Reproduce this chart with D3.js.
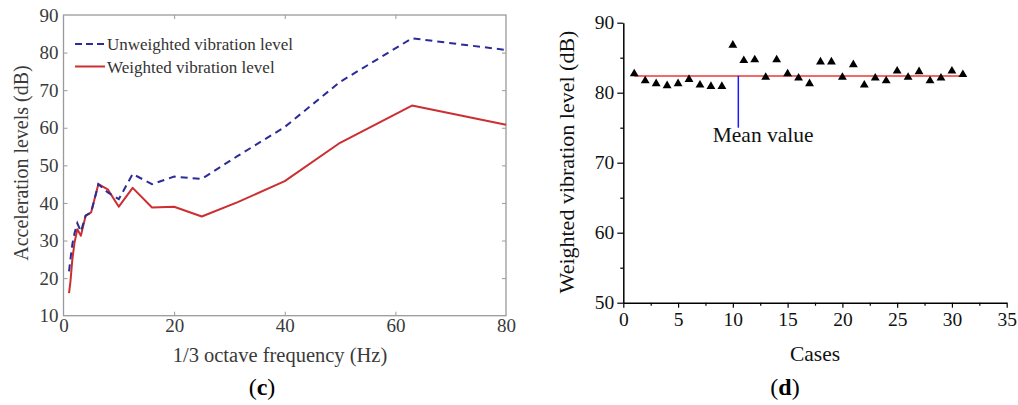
<!DOCTYPE html>
<html><head><meta charset="utf-8">
<script src="https://cdn.jsdelivr.net/npm/d3@7"></script>
<style>
body{margin:0;background:#fff;}
svg{display:block;}
svg text{font-family:"Liberation Serif","DejaVu Serif","Times New Roman",serif !important;}
</style></head>
<body>
<svg id="c" width="1018" height="405" font-family="Liberation Serif, serif"></svg>
<script>
// ---- Panel (c) data ----
const freqs = [1,1.25,1.6,2,2.5,3.15,4,5,6.3,8,10,12.5,16,20,25,31.5,40,50,63,80];
const unweighted = [21.8,25,29,32,34.6,32.4,36.6,37.5,45,42.8,41,47.7,45,47,46.4,52.5,60.2,72.2,83.8,80.7];
const weighted   = [16,19,25,29.5,33,31.3,36.6,37.5,45,43.6,39,44,38.8,39,36.4,40.2,45.8,56,65.9,60.8];
const xTicksC = [0,20,40,60,80];
const yTicksC = [10,20,30,40,50,60,70,80,90];
const legendC = ["Unweighted vibration level","Weighted vibration level"];

// ---- Panel (d) data ----
const cases = d3.range(1,32);
const caseLevels = [82.7,81.7,81.3,81.0,81.3,81.9,81.1,80.9,80.9,86.8,84.6,84.7,82.2,84.7,82.7,82.1,81.3,84.4,84.4,82.2,84.0,81.1,82.1,81.7,83.1,82.2,83.0,81.7,82.1,83.1,82.6];
const meanValue = 82.4;
const meanMarkerCase = 10.5, meanMarkerLow = 75;
const xTicksD = [0,5,10,15,20,25,30,35];
const yTicksD = [50,60,70,80,90];
const xMinorD = d3.range(2.5,35,5);
const yMinorD = [55,65,75,85];

const FONT = '"Liberation Serif", "DejaVu Serif", serif';
const svg = d3.select("#c");

// ================= Panel (c) =================
const xC = d3.scaleLinear().domain([0,80]).range([63.5,506]);
const yC = d3.scaleLinear().domain([10,90]).range([315.7,15]);
const gC = svg.append("g");
const frameCol = "#9a9a9a", labCol = "#3a3a3a";

function styleAxis(g, col, size){
  g.attr("font-family", FONT);
  g.select(".domain").remove();
  g.selectAll(".tick line").attr("stroke", frameCol).attr("stroke-width",1);
  g.selectAll("text").attr("fill", col).style("font-size", size+"px").attr("font-family", FONT);
}
gC.append("g").attr("transform","translate(0,315.7)")
  .call(d3.axisBottom(xC).tickValues(xTicksC).tickSizeInner(-4).tickSizeOuter(0).tickPadding(3).tickFormat(d3.format("d")))
  .call(g=>styleAxis(g,labCol,19))
  .call(g=>g.selectAll(".tick").filter(d=>d===0||d===80).select("line").remove());
gC.append("g").attr("transform","translate(63.5,0)")
  .call(d3.axisLeft(yC).tickValues(yTicksC).tickSizeInner(-4).tickSizeOuter(0).tickPadding(5).tickFormat(d3.format("d")))
  .call(g=>styleAxis(g,labCol,19))
  .call(g=>g.selectAll(".tick").filter(d=>d===10||d===90).select("line").remove());
gC.append("g").attr("transform","translate(0,15)")
  .call(d3.axisTop(xC).tickValues(xTicksC.filter(d=>d>0&&d<80)).tickSizeInner(-4).tickSizeOuter(0).tickFormat(""))
  .call(g=>styleAxis(g,labCol,19));
gC.append("g").attr("transform","translate(506,0)")
  .call(d3.axisRight(yC).tickValues(yTicksC.filter(d=>d>10&&d<90)).tickSizeInner(-4).tickSizeOuter(0).tickFormat(""))
  .call(g=>styleAxis(g,labCol,19));
gC.append("rect").attr("x",xC(0)).attr("y",yC(90)).attr("width",xC(80)-xC(0)).attr("height",yC(10)-yC(90))
  .attr("fill","none").attr("stroke",frameCol).attr("stroke-width",1.3);

const lineC = d3.line().x((d,i)=>xC(freqs[i])).y(d=>yC(d));
gC.append("path").datum(weighted).attr("d",lineC).attr("fill","none")
  .attr("stroke","#cc2e32").attr("stroke-width",2).attr("stroke-linejoin","round");
gC.append("path").datum(unweighted).attr("d",lineC).attr("fill","none")
  .attr("stroke","#2c2c98").attr("stroke-width",2).attr("stroke-dasharray","7,5");

// legend
const leg = gC.append("g");
leg.append("line").attr("x1",75).attr("x2",105).attr("y1",44).attr("y2",44)
  .attr("stroke","#2c2c98").attr("stroke-width",2).attr("stroke-dasharray","7,4");
leg.append("line").attr("x1",75).attr("x2",105).attr("y1",66.5).attr("y2",66.5)
  .attr("stroke","#cc2e32").attr("stroke-width",2);
leg.append("text").attr("x",107).attr("y",50).attr("fill","#333").attr("font-family",FONT).style("font-size","17px").text(legendC[0]);
leg.append("text").attr("x",107).attr("y",73).attr("fill","#333").attr("font-family",FONT).style("font-size","17px").text(legendC[1]);

gC.append("text").attr("transform","translate(28,163) rotate(-90)").attr("text-anchor","middle")
  .attr("fill","#3a3a3a").attr("font-family",FONT).style("font-size","20px").text("Acceleration levels (dB)");
gC.append("text").attr("x",280).attr("y",362).attr("text-anchor","middle")
  .attr("fill","#3a3a3a").attr("font-family",FONT).style("font-size","20.5px").text("1/3 octave frequency (Hz)");
const tc = gC.append("text").attr("x",262).attr("y",395).attr("text-anchor","middle").attr("fill","#000").attr("font-family",FONT).style("font-size","24px");
tc.append("tspan").text("(");
tc.append("tspan").attr("font-weight","bold").text("c");
tc.append("tspan").text(")");

// ================= Panel (d) =================
const xD = d3.scaleLinear().domain([0,35]).range([623.3,1006.7]);
const yD = d3.scaleLinear().domain([50,90]).range([302.7,22.7]);
const gD = svg.append("g");

function styleAxisD(g){
  g.attr("font-family", FONT);
  g.select(".domain").attr("stroke","#000").attr("stroke-width",1.5);
  g.selectAll(".tick line").attr("stroke","#000").attr("stroke-width",1.2);
  g.selectAll("text").attr("fill","#111").style("font-size","19.5px").attr("font-family",FONT);
}
gD.append("g").attr("transform","translate(0,302.7)")
  .call(d3.axisBottom(xD).tickValues(xMinorD).tickSize(3).tickFormat(""))
  .call(g=>{g.select(".domain").remove(); g.selectAll(".tick line").attr("stroke","#000").attr("stroke-width",1.2);});
gD.append("g").attr("transform","translate(623.3,0)")
  .call(d3.axisLeft(yD).tickValues(yMinorD).tickSize(3).tickFormat(""))
  .call(g=>{g.select(".domain").remove(); g.selectAll(".tick line").attr("stroke","#000").attr("stroke-width",1.2);});
gD.append("g").attr("transform","translate(0,302.7)")
  .call(d3.axisBottom(xD).tickValues(xTicksD).tickSizeInner(5).tickSizeOuter(0).tickPadding(4).tickFormat(d3.format("d")))
  .call(styleAxisD);
gD.append("g").attr("transform","translate(623.3,0)")
  .call(d3.axisLeft(yD).tickValues(yTicksD).tickSizeInner(6).tickSizeOuter(0).tickPadding(3).tickFormat(d3.format("d")))
  .call(styleAxisD);

// mean line
gD.append("line").attr("x1",xD(1)).attr("x2",xD(31)).attr("y1",yD(meanValue)).attr("y2",yD(meanValue))
  .attr("stroke","#f06a6a").attr("stroke-width",2);
gD.append("line").attr("x1",xD(meanMarkerCase)).attr("x2",xD(meanMarkerCase)).attr("y1",yD(meanValue)).attr("y2",yD(meanMarkerLow))
  .attr("stroke","#1a1aff").attr("stroke-width",1.5);
gD.append("text").attr("x",712.7).attr("y",142).attr("fill","#111").attr("font-family",FONT).style("font-size","21.5px").text("Mean value");

// triangles
const tri = d3.symbol().type(d3.symbolTriangle).size(34);
gD.selectAll("path.pt").data(caseLevels).join("path").attr("class","pt")
  .attr("transform",(d,i)=>`translate(${xD(cases[i])},${yD(d)})`)
  .attr("d",tri).attr("fill","#000");

gD.append("text").attr("transform","translate(574,162) rotate(-90)").attr("text-anchor","middle")
  .attr("fill","#111").attr("font-family",FONT).style("font-size","22px").text("Weighted vibration level (dB)");
gD.append("text").attr("x",815).attr("y",361).attr("text-anchor","middle")
  .attr("fill","#111").attr("font-family",FONT).style("font-size","21.5px").text("Cases");
const td = gD.append("text").attr("x",785).attr("y",395).attr("text-anchor","middle").attr("fill","#000").attr("font-family",FONT).style("font-size","24px");
td.append("tspan").text("(");
td.append("tspan").attr("font-weight","bold").text("d");
td.append("tspan").text(")");
</script>
</body></html>
